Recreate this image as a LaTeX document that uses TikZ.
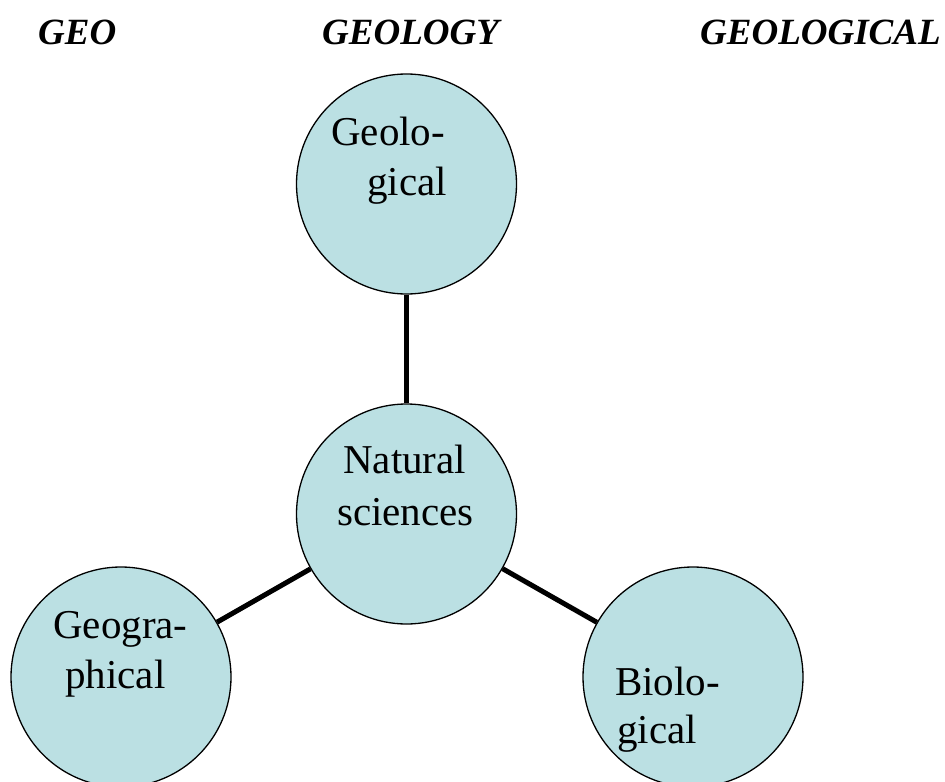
\documentclass[tikz,border=0pt]{standalone}
\usepackage{fontspec}
\setmainfont{Liberation Serif}
\definecolor{bubble}{RGB}{187,224,227}
\begin{document}
\begin{tikzpicture}[x=1bp,y=-1bp,
  bubble/.style={circle,draw=black,line width=1.3bp,fill=bubble,minimum size=220bp,inner sep=0pt},
  link/.style={line width=5bp,black},
  txt/.style={anchor=base west,inner sep=0pt,font=\fontsize{41bp}{48bp}\selectfont},
  head/.style={anchor=base west,inner sep=0pt,font=\fontsize{37bp}{44bp}\selectfont\bfseries\itshape}]
\clip (0,0) rectangle (945,782);
\fill[white] (0,0) rectangle (945,782);
\node[head] (h1) at (38,45) {GEO};
\node[head] (h2) at (322,45) {GEOLOGY};
\node[head] (h3) at (700,45) {GEOLOGICAL};
\node[bubble] (top) at (406.5,184) {};
\node[bubble] (mid) at (406.5,514) {};
\node[bubble] (left) at (121,677) {};
\node[bubble] (right) at (693,677) {};
\draw[link] (top) -- (mid);
\draw[link] (mid) -- (left);
\draw[link] (mid) -- (right);
\node[txt] (t1) at (331,145) {Geolo-};
\node[txt] (t2) at (367,195) {gical};
\node[txt] (m1) at (343,473) {Natural};
\node[txt] (m2) at (337,525) {sciences};
\node[txt] (l1) at (53,638) {Geogra-};
\node[txt] (l2) at (65,688) {phical};
\node[txt] (r1) at (615,695) {Biolo-};
\node[txt] (r2) at (617,743) {gical};
\end{tikzpicture}
\end{document}
